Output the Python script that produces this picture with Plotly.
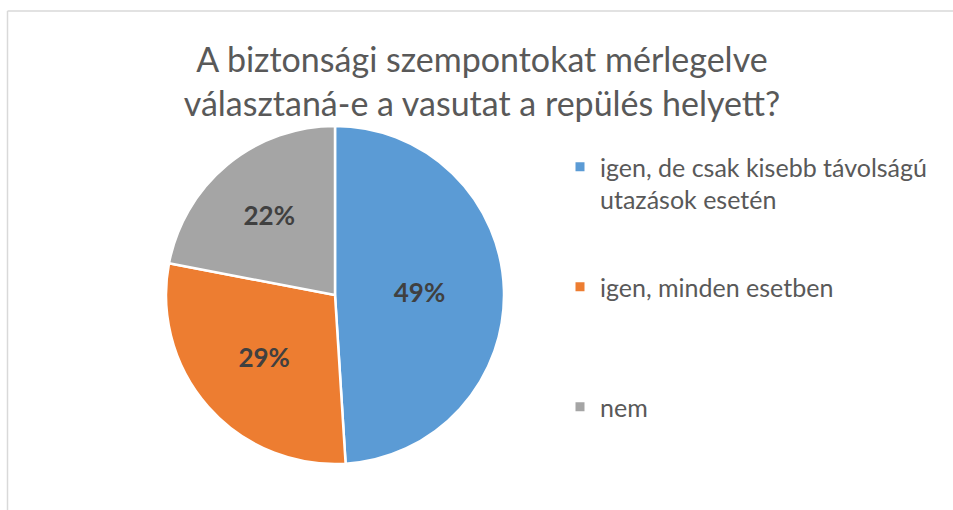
import plotly.graph_objects as go

title_lines = ["A biztonsági szempontokat mérlegelve", "választaná-e a vasutat a repülés helyett?"]
categories = ["igen, de csak kisebb távolságú<br>utazások esetén", "igen, minden esetben", "nem"]
values = [49, 29, 22]
colors = ["#5B9BD5", "#ED7D31", "#A5A5A5"]

W, H = 953, 510
cx, cy, r = 335, 295, 169

fig = go.Figure()
fig.add_trace(go.Pie(
    labels=categories, values=values, sort=False, direction="clockwise", rotation=0,
    marker=dict(colors=colors, line=dict(color="white", width=2.5)),
    textinfo="percent", texttemplate="<b>%{percent:.0%}</b>",
    textposition="inside", insidetextorientation="horizontal",
    textfont=dict(family="Lato", size=26, color="#404040"),
    hoverinfo="label+percent", showlegend=False,
    domain=dict(x=[(cx - r) / W, (cx + r) / W], y=[(H - cy - r) / H, (H - cy + r) / H]),
))
for i, (lab, col) in enumerate(zip(categories, colors)):
    txt = lab if "<br>" in lab else lab + "<br> "
    fig.add_trace(go.Scatter(
        x=[None], y=[None], mode="markers", name=txt, legendgroup=str(i),
        marker=dict(symbol="square", size=9, color=col), hoverinfo="skip",
    ))

fig.update_layout(
    width=W, height=H,
    margin=dict(l=0, r=0, t=0, b=0),
    paper_bgcolor="white", plot_bgcolor="white",
    xaxis=dict(visible=False), yaxis=dict(visible=False),
    title=dict(text="<br>".join(title_lines), x=482 / W, xanchor="center",
               y=1 - 72 / H, yanchor="middle", yref="container",
               font=dict(family="Lato", size=34, color="#595959")),
    legend=dict(x=560 / W, xanchor="left", y=1 - 144 / H, yanchor="top",
                valign="top", tracegroupgap=52,
                font=dict(family="Lato", size=25, color="#595959"),
                bgcolor="rgba(0,0,0,0)"),
    shapes=[
        dict(type="line", xref="paper", yref="paper", x0=7.5 / W, x1=1, y0=1 - 11 / H, y1=1 - 11 / H,
             line=dict(color="#D9D9D9", width=1.5)),
        dict(type="line", xref="paper", yref="paper", x0=7.5 / W, x1=7.5 / W, y0=0, y1=1 - 11 / H,
             line=dict(color="#D9D9D9", width=1.5)),
    ],
)
fig.write_html("out.html", config={"displayModeBar": False},
               post_script="document.body.style.margin='0';")
